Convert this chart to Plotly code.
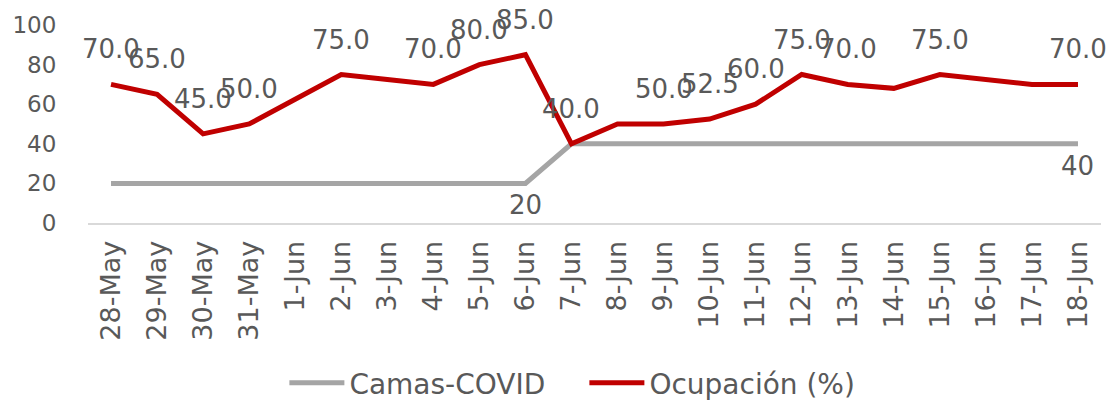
import plotly.graph_objects as go

dates = ["28-May", "29-May", "30-May", "31-May", "1-Jun", "2-Jun", "3-Jun", "4-Jun",
         "5-Jun", "6-Jun", "7-Jun", "8-Jun", "9-Jun", "10-Jun", "11-Jun", "12-Jun",
         "13-Jun", "14-Jun", "15-Jun", "16-Jun", "17-Jun", "18-Jun"]
camas = [20, 20, 20, 20, 20, 20, 20, 20, 20, 20, 40, 40, 40, 40, 40, 40, 40, 40, 40, 40, 40, 40]
ocupacion = [70, 65, 45, 50, 62.5, 75, 72.5, 70, 80, 85, 40, 50, 50, 52.5, 60, 75,
             70, 68, 75, 72.5, 70, 70]
ocup_labeled = ["28-May", "29-May", "30-May", "31-May", "2-Jun", "4-Jun", "5-Jun", "6-Jun",
                "7-Jun", "9-Jun", "10-Jun", "11-Jun", "12-Jun", "13-Jun", "15-Jun", "18-Jun"]
camas_labeled = ["6-Jun", "18-Jun"]

FONT = "DejaVu Sans"
TXT = "#595959"

fig = go.Figure()
fig.add_trace(go.Scatter(x=dates, y=camas, mode="lines", name="Camas-COVID",
                         line=dict(color="#A5A5A5", width=5)))
fig.add_trace(go.Scatter(x=dates, y=ocupacion, mode="lines", name="Ocupación (%)",
                         line=dict(color="#C00000", width=5)))

for d in ocup_labeled:
    v = ocupacion[dates.index(d)]
    fig.add_annotation(x=d, y=v, text=f"{v:.1f}", showarrow=False, yshift=35,
                       font=dict(family=FONT, size=26, color=TXT))
for d in camas_labeled:
    v = camas[dates.index(d)]
    fig.add_annotation(x=d, y=v, text=f"{v}", showarrow=False, yshift=-22,
                       font=dict(family=FONT, size=26, color=TXT))

fig.update_layout(
    width=1111, height=401,
    margin=dict(l=88, r=10, t=25, b=178, autoexpand=False),
    paper_bgcolor="white", plot_bgcolor="white",
    font=dict(family=FONT, size=24, color=TXT),
    showlegend=True,
    legend=dict(orientation="h", xref="container", x=0.526, xanchor="center",
                yref="container", y=0.045, yanchor="middle",
                font=dict(family=FONT, size=28, color=TXT), itemwidth=55,
                entrywidth=230, traceorder="normal"),
    xaxis=dict(type="category", tickangle=-90, showgrid=False, showline=True,
               linecolor="#D9D9D9", linewidth=2, ticks="", range=[-0.5, 21.5],
               ticklabelstandoff=5,
               tickfont=dict(family=FONT, size=27, color=TXT)),
    yaxis=dict(range=[0, 100], dtick=20, showgrid=False, zeroline=False, showline=False,
               ticks="outside", ticklen=26, tickcolor="rgba(0,0,0,0)",
               tickfont=dict(family=FONT, size=23, color=TXT)),
)

fig.write_html("out.html", config={"displayModeBar": False},
               post_script="document.body.style.margin='0px';")
